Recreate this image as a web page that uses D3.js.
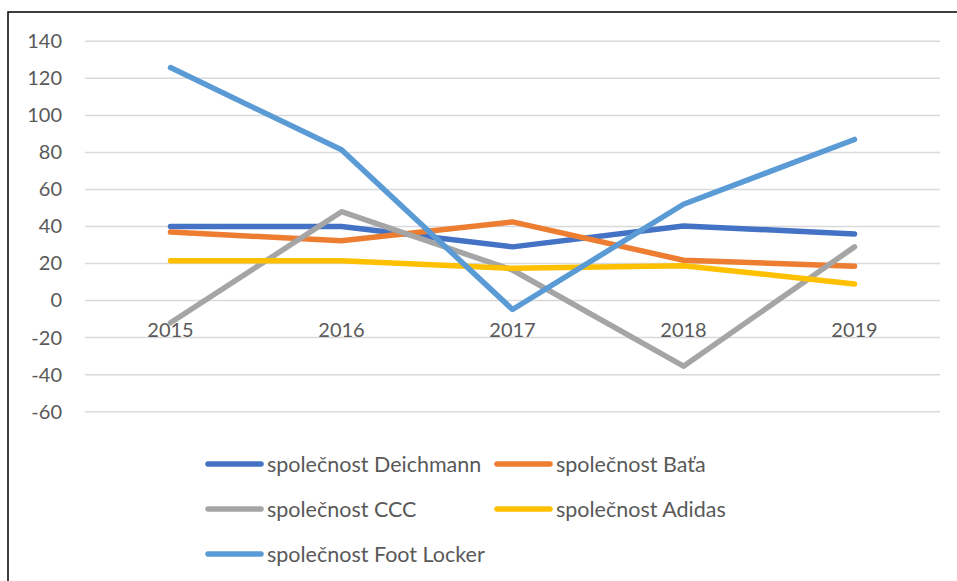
<!DOCTYPE html>
<html>
<head>
<meta charset="utf-8">
<script src="https://cdn.jsdelivr.net/npm/d3@7"></script>
<style>
  html, body { margin: 0; padding: 0; background: #fff; }
  svg { display: block; }
</style>
</head>
<body>
<svg id="chart" width="957" height="581"></svg>
<script>
const years = ["2015", "2016", "2017", "2018", "2019"];
const seriesNames = ["společnost Deichmann", "společnost Baťa", "společnost CCC", "společnost Adidas", "společnost Foot Locker"];
const deichmann = [40, 40, 29, 40.3, 36];
const bata = [37, 32.3, 42.5, 21.8, 18.6];
const ccc = [-12, 48, 16.5, -35.4, 29];
const adidas = [21.5, 21.5, 17.4, 18.8, 9];
const footLocker = [125.8, 81.4, -4.8, 52, 87];
const yTicks = [-60, -40, -20, 0, 20, 40, 60, 80, 100, 120, 140];
const colors = ["#4472C4", "#ED7D31", "#A5A5A5", "#FFC000", "#5B9BD5"];

const seriesValues = [deichmann, bata, ccc, adidas, footLocker];
const svg = d3.select("#chart");
const font = "Lato, 'Open Sans', sans-serif";
const textColor = "#595959";

// outer border (extends beyond the canvas right and bottom)
svg.append("rect")
  .attr("x", 8).attr("y", 12)
  .attr("width", 1000).attr("height", 1000)
  .attr("fill", "none").attr("stroke", "#000").attr("stroke-width", 1.5);

const x = d3.scaleBand().domain(years).range([85, 940]).padding(0);
const y = d3.scaleLinear().domain([-60, 140]).range([411.7, 41.3]);

// gridlines
svg.append("g").selectAll("line").data(yTicks).join("line")
  .attr("x1", 85).attr("x2", 940)
  .attr("y1", d => y(d)).attr("y2", d => y(d))
  .attr("stroke", "#D9D9D9").attr("stroke-width", 1.5);

// y axis labels
const yAxis = d3.axisLeft(y).tickValues(yTicks).tickSize(0).tickPadding(0).tickFormat(d => String(d));
const gy = svg.append("g").attr("transform", "translate(62,0)").call(yAxis);
gy.select(".domain").remove();
gy.selectAll("text").attr("fill", textColor).style("font-family", font).style("font-size", "20px");

// x axis labels at zero line
const xAxis = d3.axisBottom(x).tickSize(0).tickPadding(0);
const gx = svg.append("g").attr("transform", "translate(0,323)").call(xAxis);
gx.select(".domain").remove();
gx.selectAll("text").attr("fill", textColor).attr("dy", "0.71em").style("font-family", font).style("font-size", "20px");

// lines
const line = d3.line()
  .x((d, i) => x(years[i]) + x.bandwidth() / 2)
  .y(d => y(d));

svg.append("g").selectAll("path").data(seriesValues).join("path")
  .attr("d", d => line(d))
  .attr("fill", "none")
  .attr("stroke", (d, i) => colors[i])
  .attr("stroke-width", 5.5)
  .attr("stroke-linejoin", "round")
  .attr("stroke-linecap", "round");

// legend
const legendPos = [
  [206, 464], [495, 464],
  [206, 509], [495, 509],
  [206, 554]
];
const lg = svg.append("g").selectAll("g").data(seriesNames).join("g")
  .attr("transform", (d, i) => `translate(${legendPos[i][0]},${legendPos[i][1]})`);
lg.append("line")
  .attr("x1", 2).attr("x2", 55).attr("y1", 0).attr("y2", 0)
  .attr("stroke", (d, i) => colors[i]).attr("stroke-width", 5.5)
  .attr("stroke-linecap", "round");
lg.append("text")
  .attr("x", 61).attr("y", 0).attr("dy", "0.35em")
  .attr("fill", textColor)
  .style("font-family", font).style("font-size", "21.5px")
  .text(d => d);
</script>
</body>
</html>
